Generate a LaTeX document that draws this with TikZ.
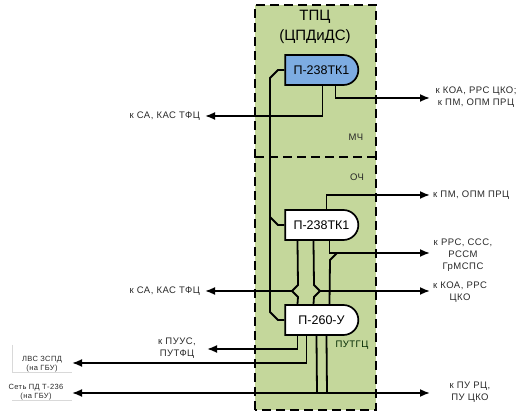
\documentclass[tikz,border=0pt]{standalone}
\usepackage{fontspec}
\setmainfont{Liberation Sans}
\newfontfamily\lblfont[LetterSpace=5]{Liberation Sans}
\usetikzlibrary{shapes.misc,arrows.meta}
\definecolor{boxgreen}{RGB}{196,215,155}
\definecolor{unitblue}{RGB}{125,172,226}
\definecolor{txtgray}{RGB}{40,40,40}
\tikzset{
  unit/.style={rounded rectangle, rounded rectangle left arc=none, draw=black, line width=1.7pt,
    minimum width=73pt, minimum height=30pt, inner sep=0pt, font=\fontsize{12.5}{14}\selectfont},
  wire/.style={line width=1.8pt, black},
  arr/.style={wire, -{Latex[length=10pt,width=8pt]}},
  lbl/.style={font=\lblfont\fontsize{9.5}{12}\selectfont, text=txtgray, inner sep=0pt, align=center},
  small/.style={font=\lblfont\fontsize{7.5}{9}\selectfont, text=txtgray, inner sep=0pt, align=center},
  title/.style={font=\fontsize{15}{18}\selectfont, inner sep=0pt},
}
\begin{document}
\begin{tikzpicture}[x=1pt,y=1pt]
\useasboundingbox (0,0) rectangle (526,414);
% green box
\fill[boxgreen] (255,4) rectangle (376,409);
\draw[line width=1.8pt, dash pattern=on 9pt off 5pt] (255,4) rectangle (376,409);
\draw[line width=1.8pt, dash pattern=on 9pt off 5pt] (255,257) -- (376,257);
% titles
\node[title] (t) at (315,397) {ТПЦ};
\node[title] (t2l) at (315,377) {(ЦПДиДС)};
\node[lbl] (mch) at (356,277) {МЧ};
\node[lbl] (och) at (357,237) {ОЧ};
\node[lbl, text=black!85!green] (putgc) at (352,69) {ПУТГЦ};
% units
\node[unit, fill=unitblue] (t1) at (321.5,344) {П-238ТК1};
\node[unit, fill=white] (tk) at (321.5,189) {П-238ТК1};
\node[unit, fill=white] (u) at (321.5,94) {П-260-У};
% arrow end points
\coordinate (aTL) at (205,298);
\coordinate (aTR) at (430,316);
\coordinate (aM1) at (430,219);
\coordinate (aM2) at (430,161);
\coordinate (aML) at (205,123);
\coordinate (aMR) at (430,123);
\coordinate (aU1) at (207,65);
\coordinate (aU2) at (72,51);
\coordinate (aU3) at (72,21);
\coordinate (aU4) at (430,21);
% left bus
\draw[wire] (t1.west) -- (278,344) -- (270,336) -- (270,102) -- (278,94) -- (u.west);
\draw[wire] (270,197) -- (278,189) -- (tk.west);
% top unit
\draw[arr] ([xshift=38pt]t1.south west) |- (aTL);
\draw[arr] ([xshift=51pt]t1.south west) |- (aTR);
% middle unit
\draw[arr] ([xshift=42pt]tk.north west) |- (aM1);
\draw[wire] ([xshift=13pt]tk.south west) -- (298,129) -- (292,123) -- (298,117) -- ([xshift=13pt]u.north west);
\draw[wire] ([xshift=29pt]tk.south west) -- (314,129) -- (320,123) -- (314,117) -- ([xshift=29pt]u.north west);
\draw[arr] ([xshift=45pt]tk.south west) |- (aM2);
\draw[wire] ([xshift=45pt]u.north west) -- (330,154) -- (337,161);
\draw[arr] (292,123) -- (aML);
\draw[arr] (320,123) -- (aMR);
% bottom unit
\draw[arr] ([xshift=13pt]u.south west) |- (aU1);
\draw[arr] ([xshift=22pt]u.south west) |- (aU2);
\draw[wire] ([xshift=32pt]u.south west) -- (317,21);
\draw[wire] ([xshift=42pt]u.south west) -- (327,21);
\draw[wire, {Latex[length=10pt,width=8pt]}-{Latex[length=10pt,width=8pt]}] (aU3) -- (aU4);
% labels left
\node[lbl, anchor=east] (l1) at (200,298) {к СА, КАС ТФЦ};
\node[lbl, anchor=east] (l2) at (200,123) {к СА, КАС ТФЦ};
\node[lbl] (l3) at (177,65.5) {к ПУУС,\\ПУТФЦ};
\node[small] (l4) at (42,49.5) {ЛВС ЗСПД\\(на ГБУ)};
\node[small] (l5) at (36,21.5) {Сеть ПД Т-236\\(на ГБУ)};
\draw[black!15, line width=0.5pt] (12,69) -- (12,42) -- (72,42);
\draw[black!15, line width=0.5pt] (12,14) -- (72,14);
% labels right
\node[lbl] (r1) at (476,316.5) {к КОА, РРС ЦКО;\\к ПМ, ОПМ ПРЦ};
\node[lbl, anchor=west] (r2) at (433,219) {к ПМ, ОПМ ПРЦ};
\node[lbl] (r3) at (463,159) {к РРС, ССС,\\РССМ\\ГрМСПС};
\node[lbl] (r4) at (460,121.5) {к КОА, РРС\\ЦКО};
\node[lbl] (r5) at (470,21.5) {к ПУ РЦ,\\ПУ ЦКО};
\end{tikzpicture}
\end{document}
